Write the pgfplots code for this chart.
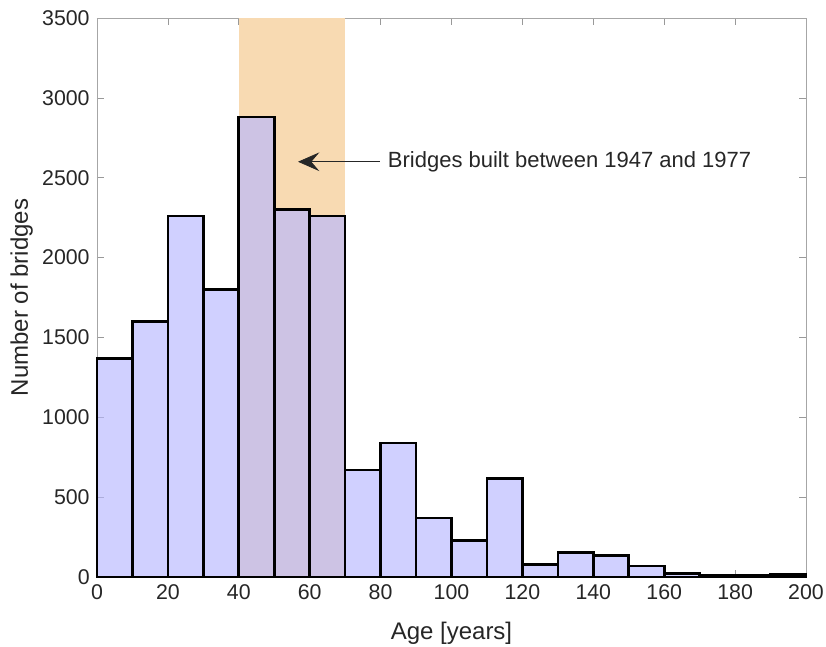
\documentclass[border=0pt]{standalone}
\usepackage{pgfplots}
\pgfplotsset{compat=1.18}
\usetikzlibrary{arrows.meta}
\usepackage{fontspec}
\setmainfont{Liberation Sans}
\definecolor{barfill}{RGB}{183,183,255}
\definecolor{band}{RGB}{248,218,178}
\definecolor{txt}{RGB}{38,38,38}
\begin{document}
\begin{tikzpicture}[x=1pt,y=1pt]
\useasboundingbox (-72.75pt,-52.5pt) rectangle (546.75pt,432.75pt);
\begin{axis}[
  at={(0,0)}, anchor=south west,
  scale only axis, width=531.75pt, height=419.25pt,
  xmin=0, xmax=200, ymin=0, ymax=3500,
  xtick={0,20,...,200}, ytick={0,500,...,3500},
  tick align=inside, major tick length=5pt,
  axis line style={draw=gray!70, line width=0.6pt},
  every tick/.style={gray!80, line width=0.5pt},
  tick label style={font=\fontsize{16}{19}\selectfont, text=txt},
  xticklabel style={yshift=-2pt},
  yticklabel style={xshift=-2pt},
  /pgf/number format/assume math mode=true,
  /pgf/number format/1000 sep={},
  label style={font=\fontsize{18}{21}\selectfont, text=txt},
  xlabel={Age [years]}, ylabel={Number of bridges},
  xlabel style={at={(axis description cs:0.5,0)}, anchor=center, yshift=-42pt},
  ylabel style={at={(axis description cs:-0.1063,0.5)}, anchor=center},
  clip=false,
]
\addplot[draw=none, fill=band] coordinates {
(40,0) (40,3500) (70,3500) (70,0)
} -- cycle;
\addplot[ybar interval, fill=barfill, fill opacity=0.65, draw=black, draw opacity=1, line width=2pt] coordinates {
(0,1370) (10,1600) (20,2260) (30,1800) (40,2880) (50,2300) (60,2260)
(70,670) (80,840) (90,370) (100,230) (110,615) (120,80) (130,155)
(140,133) (150,68) (160,23) (170,8) (180,8) (190,14) (200,14)
};
\draw[-{Stealth[length=16pt,width=14pt,inset=6pt]}, black!85, line width=0.6pt] (axis cs:79.8,2600) -- (axis cs:56.7,2600);
\node[anchor=west, font=\fontsize{16.5}{19}\selectfont, text=txt, inner sep=0pt] at (axis cs:82,2600) {Bridges built between 1947 and 1977};
\end{axis}
\end{tikzpicture}
\end{document}
